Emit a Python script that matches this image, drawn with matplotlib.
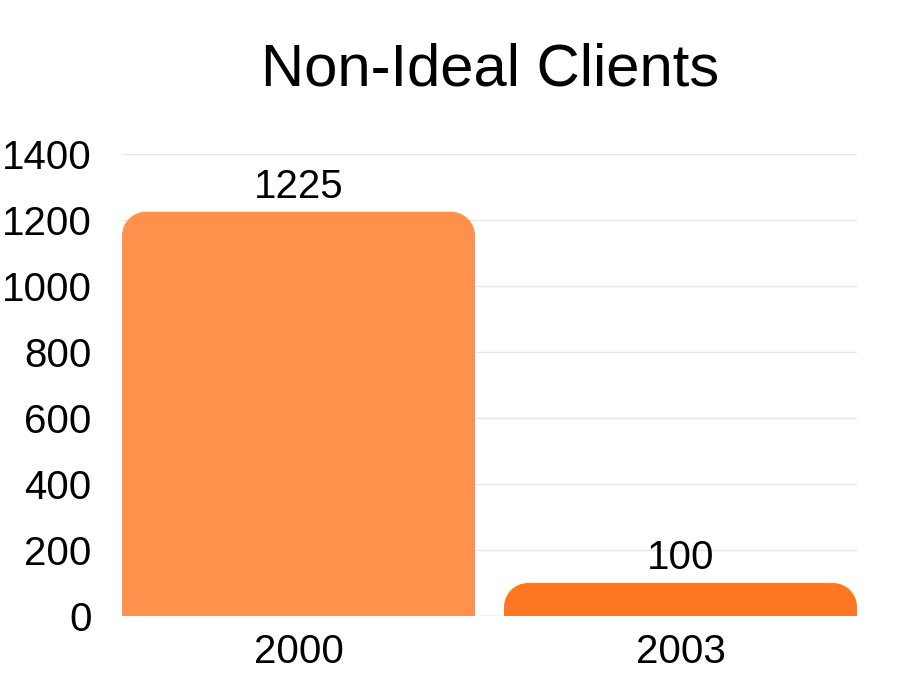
import matplotlib
matplotlib.use("Agg")

import matplotlib.pyplot as plt
from matplotlib.path import Path
from matplotlib.patches import PathPatch

categories = ["2000", "2003"]
values = [1225, 100]
colors = ["#FF914D", "#FF7722"]
y_ticks = [0, 200, 400, 600, 800, 1000, 1200, 1400]

plt.rcParams["font.family"] = ["Liberation Sans", "DejaVu Sans"]

fig = plt.figure(figsize=(9, 6.9), dpi=100)
ax = fig.add_axes([0.1356, 0.1072, 0.8166, 0.6696])

width = 0.924
xs = list(range(len(categories)))
bars = ax.bar(xs, values, width=width, color=colors)

ax.set_xlim(-width / 2, xs[-1] + width / 2)
ax.set_ylim(0, 1400)


def rounded_top(x0, y0, w, h, rx, ry):
    ry = min(ry, h)
    k = 0.5523
    verts = [
        (x0, y0),
        (x0, y0 + h - ry),
        (x0, y0 + h - ry + k * ry), (x0 + rx - k * rx, y0 + h), (x0 + rx, y0 + h),
        (x0 + w - rx, y0 + h),
        (x0 + w - rx + k * rx, y0 + h), (x0 + w, y0 + h - ry + k * ry), (x0 + w, y0 + h - ry),
        (x0 + w, y0),
        (x0, y0),
    ]
    codes = [Path.MOVETO, Path.LINETO,
             Path.CURVE4, Path.CURVE4, Path.CURVE4,
             Path.LINETO,
             Path.CURVE4, Path.CURVE4, Path.CURVE4,
             Path.LINETO, Path.CLOSEPOLY]
    return Path(verts, codes)


# swap the square bars for ones with rounded top corners (~24 px)
fig.canvas.draw()
px_x = ax.transData.transform((1, 0))[0] - ax.transData.transform((0, 0))[0]
px_y = ax.transData.transform((0, 1))[1] - ax.transData.transform((0, 0))[1]
rx = 24 / px_x
ry = 24 / px_y
for rect, c in zip(bars, colors):
    p = rounded_top(rect.get_x(), rect.get_y(), rect.get_width(), rect.get_height(), rx, ry)
    ax.add_patch(PathPatch(p, facecolor=c, edgecolor="none", zorder=3))
    rect.set_visible(False)

for x, v in zip(xs, values):
    ax.annotate(str(v), (x, v), xytext=(0, 4), textcoords="offset points",
                ha="center", va="bottom", fontsize=29)

ax.set_yticks(y_ticks)
ax.set_xticks(xs)
ax.set_xticklabels(categories)
ax.tick_params(axis="both", length=0, labelsize=29)
ax.tick_params(axis="y", pad=22)
ax.tick_params(axis="x", pad=12)

for s in ax.spines.values():
    s.set_visible(False)
ax.grid(axis="y", color="#e6e6e6", linewidth=1)
ax.set_axisbelow(True)
ax.axhline(0, color="#d0d0d0", linewidth=1, zorder=2)

fig.text(0.544, 0.8986, "Non-Ideal Clients", ha="center", va="center", fontsize=43)

plt.savefig("out.png", dpi=100)
plt.close()
